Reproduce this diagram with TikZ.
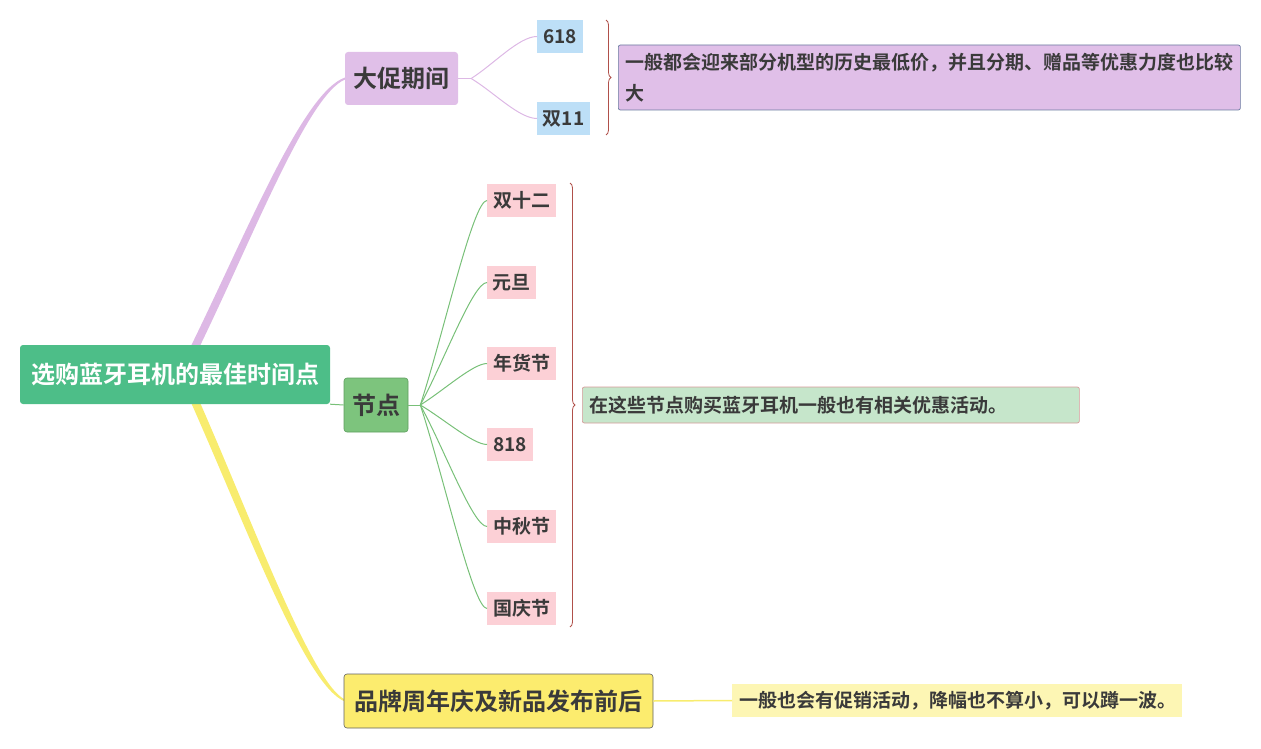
\documentclass[tikz,border=0pt]{standalone}
\usepackage{fontspec}
\setmainfont{Noto Sans CJK SC}[BoldFont={Noto Sans CJK SC Bold}]
\usetikzlibrary{decorations.pathreplacing,calc}
\definecolor{rootc}{RGB}{77,190,136}
\definecolor{purp}{RGB}{224,191,232}
\definecolor{purpline}{RGB}{221,184,229}
\definecolor{nodeg}{RGB}{125,196,125}
\definecolor{nodegb}{RGB}{94,158,94}
\definecolor{greenline}{RGB}{120,192,120}
\definecolor{yell}{RGB}{252,236,110}
\definecolor{yellline}{RGB}{248,236,110}
\definecolor{blueleaf}{RGB}{189,223,247}
\definecolor{pinkleaf}{RGB}{252,208,214}
\definecolor{sumgreen}{RGB}{198,230,203}
\definecolor{sumgreenb}{RGB}{214,154,154}
\definecolor{sumpurpb}{RGB}{106,122,160}
\definecolor{sumyell}{RGB}{253,246,180}
\definecolor{bracec}{RGB}{176,80,74}
\definecolor{txt}{RGB}{58,58,58}
\tikzset{
  big/.style={font=\bfseries\fontsize{24}{28}\selectfont, text=txt, inner sep=0pt, rounded corners=3pt},
  leaf/.style={font=\bfseries\fontsize{19}{22}\selectfont, text=txt, inner sep=0pt, minimum height=33pt, anchor=west},
  summ/.style={font=\bfseries\fontsize{19}{31}\selectfont, text=txt, inner xsep=7pt, inner ysep=0pt, align=left, rounded corners=2pt},
  thin/.style={line width=1pt},
  bracedeco/.style={draw=bracec, line width=0.8pt, decorate, decoration={brace, amplitude=5pt}}
}
\begin{document}
\begin{tikzpicture}[x=1pt,y=-1pt]
\useasboundingbox (0,0) rectangle (1261,749);
% thick tapered branches
\fill[purpline] (189,350) .. controls (247,232) and (303,92) .. (345,77.5)
  -- (345,79.5) .. controls (308,95) and (254,235) .. (198,350) -- cycle;
\fill[yellline] (189,398) .. controls (247,528) and (305,686) .. (345,701.5)
  -- (345,699.5) .. controls (312,684) and (254,525) .. (198,398) -- cycle;

% main nodes
\node[big, fill=rootc, text=white, minimum width=310pt, minimum height=59pt] (root) at (175,374.5) {选购蓝牙耳机的最佳时间点};
\node[big, fill=purp, minimum width=113pt, minimum height=53pt] (dacu) at (401.5,78.5) {大促期间};
\node[big, fill=nodeg, draw=nodegb, line width=0.6pt, minimum width=64pt, minimum height=54pt] (jd) at (376,405) {节点};
\node[big, fill=yell, draw=txt!80, line width=0.6pt, minimum width=309pt, minimum height=54pt] (pp) at (498.5,701) {品牌周年庆及新品发布前后};

% leaves of dacu
\node[leaf, fill=blueleaf, minimum width=46pt] (l618) at (537,36.5) {618};
\node[leaf, fill=blueleaf, minimum width=53pt] (l11) at (537,118.5) {双11};

% leaves of jd
\node[leaf, fill=pinkleaf, minimum width=69pt] (s12) at (487,200.5) {双十二};
\node[leaf, fill=pinkleaf, minimum width=49pt] (yd) at (487,282.5) {元旦};
\node[leaf, fill=pinkleaf, minimum width=69pt] (nhj) at (487,363.5) {年货节};
\node[leaf, fill=pinkleaf, minimum width=46pt] (l818) at (487,444.5) {818};
\node[leaf, fill=pinkleaf, minimum width=69pt] (zqj) at (487,526.5) {中秋节};
\node[leaf, fill=pinkleaf, minimum width=69pt] (gqj) at (487,608.5) {国庆节};

% summaries
\node[summ, fill=purp, draw=sumpurpb, line width=0.7pt, text width=608pt, minimum height=65pt, anchor=west] (sp) at (618,77.5) {一般都会迎来部分机型的历史最低价，并且分期、赠品等优惠力度也比较\\大};
\node[summ, fill=sumgreen, draw=sumgreenb, line width=0.7pt, text width=483pt, minimum height=36pt, anchor=west, font=\bfseries\fontsize{19}{22}\selectfont] (sg) at (582,405) {在这些节点购买蓝牙耳机一般也有相关优惠活动。};
\node[summ, fill=sumyell, text width=436pt, minimum height=33pt, anchor=west, rounded corners=0pt, font=\bfseries\fontsize{19}{22}\selectfont] (sy) at (732,700.5) {一般也会有促销活动，降幅也不算小，可以蹲一波。};

% connectors
\draw[greenline, line width=1pt] (root.south east) -- (jd.west);
\draw[yellline, line width=1.5pt] (pp.east) -- (sy.west);

\coordinate (dacuj) at ($(dacu.east)+(13,0)$);
\draw[purpline, thin] (dacu.east) -- (dacuj);
\foreach \t in {l618,l11}{
  \draw[purpline, thin] (dacuj) .. controls ($(dacuj)!0.35!(\t.west)$) and ($(\t.west)+(-18,0)$) .. (\t.west);
}
\coordinate (jdj) at ($(jd.east)+(12,0)$);
\draw[greenline, thin] (jd.east) -- (jdj);
\foreach \t in {s12,yd,nhj,l818,zqj,gqj}{
  \draw[greenline, thin] (jdj) .. controls ($(jdj)!0.35!(\t.west)$) and ($(\t.west)+(-14,0)$) .. (\t.west);
}

% braces
\coordinate (b1t) at (606,20);
\coordinate (b1b) at (606,135);
\draw[bracedeco] (b1t) -- (b1b);
\coordinate (b2t) at (570,183);
\coordinate (b2b) at (570,627);
\draw[bracedeco] (b2t) -- (b2b);
\end{tikzpicture}
\end{document}
